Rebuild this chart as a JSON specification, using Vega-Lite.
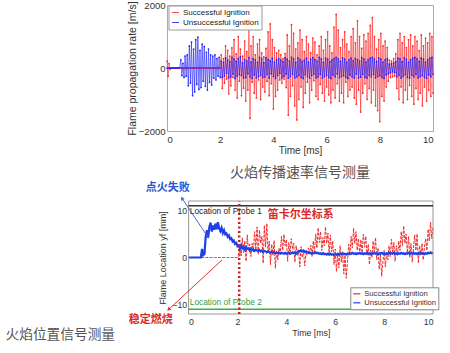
{
"$schema":"https://vega.github.io/schema/vega-lite/v6.json",
"autosize":{"type":"none"},
"padding":{"left":167,"top":5,"right":283,"bottom":348},
"background":"white",
"bounds":"flush",
"spacing":70,
"config":{"font":"Liberation Sans","view":{"stroke":null},
"axis":{"labelFont":"Liberation Sans","titleFont":"Liberation Sans","titleFontWeight":"normal","labelColor":"#333333","titleColor":"#333333","grid":false,"ticks":false,"tickSize":0,"domain":false,"format":"d"},
"legend":{"labelFont":"Liberation Sans"}},
"datasets":{
"rate":[
{"t":0,"s":220,"u":0},{"t":0.04,"s":-260,"u":0},{"t":0.08,"s":140,"u":0},{"t":0.12,"s":-40,"u":0},{"t":0.16,"s":0,"u":0},{"t":0.2,"s":0,"u":0},{"t":0.24,"s":0,"u":0},{"t":0.28,"s":0,"u":0},{"t":0.32,"s":0,"u":0},{"t":0.36,"s":0,"u":0},{"t":0.4,"s":0,"u":0},{"t":0.44,"s":0,"u":0},{"t":0.48,"s":0,"u":0},
{"t":0.52,"s":0,"u":260},{"t":0.56,"s":0,"u":-240},{"t":0.6,"s":0,"u":150},{"t":0.64,"s":0,"u":-300},{"t":0.68,"s":0,"u":380},{"t":0.72,"s":0,"u":-260},{"t":0.76,"s":0,"u":420},{"t":0.8,"s":0,"u":-560},{"t":0.84,"s":0,"u":700},{"t":0.88,"s":0,"u":-480},{"t":0.92,"s":0,"u":820},{"t":0.96,"s":0,"u":-880},{"t":1,"s":0,"u":600},{"t":1.04,"s":0,"u":-760},{"t":1.08,"s":0,"u":900},{"t":1.12,"s":0,"u":-520},{"t":1.16,"s":0,"u":980},{"t":1.2,"s":0,"u":-680},{"t":1.24,"s":0,"u":560},{"t":1.28,"s":0,"u":-620},{"t":1.32,"s":0,"u":760},{"t":1.36,"s":0,"u":-420},{"t":1.4,"s":0,"u":680},{"t":1.44,"s":0,"u":-580},{"t":1.48,"s":0,"u":500},{"t":1.52,"s":0,"u":-700},{"t":1.56,"s":0,"u":600},{"t":1.6,"s":0,"u":-460},{"t":1.64,"s":0,"u":420},{"t":1.68,"s":0,"u":-540},{"t":1.72,"s":0,"u":380},{"t":1.76,"s":0,"u":-320},{"t":1.8,"s":0,"u":420},{"t":1.84,"s":0,"u":-380},{"t":1.88,"s":0,"u":300},{"t":1.92,"s":0,"u":-260},{"t":1.96,"s":0,"u":340},{"t":2,"s":0,"u":-300},
{"t":2.04,"s":420,"u":220},{"t":2.08,"s":-650,"u":-300},{"t":2.12,"s":300,"u":180},{"t":2.16,"s":-480,"u":-250},{"t":2.2,"s":700,"u":320},{"t":2.24,"s":-350,"u":-160},{"t":2.28,"s":560,"u":260},{"t":2.32,"s":-820,"u":-310},{"t":2.36,"s":380,"u":200},{"t":2.4,"s":-560,"u":-280},{"t":2.44,"s":640,"u":340},{"t":2.48,"s":-300,"u":-190},{"t":2.52,"s":900,"u":280},{"t":2.56,"s":-700,"u":-330},{"t":2.6,"s":450,"u":210},{"t":2.64,"s":-950,"u":-260},{"t":2.68,"s":1000,"u":300},{"t":2.72,"s":-420,"u":-200},{"t":2.76,"s":600,"u":350},{"t":2.8,"s":-880,"u":-240},{"t":2.84,"s":380,"u":160},{"t":2.88,"s":-640,"u":-320},{"t":2.92,"s":850,"u":270},{"t":2.96,"s":-1050,"u":-300},
{"t":3,"s":520,"u":220},{"t":3.04,"s":-700,"u":-180},{"t":3.08,"s":1250,"u":330},{"t":3.12,"s":-1600,"u":-280},{"t":3.16,"s":700,"u":190},{"t":3.2,"s":-450,"u":-330},{"t":3.24,"s":1000,"u":300},{"t":3.28,"s":-800,"u":-220},{"t":3.32,"s":420,"u":260},{"t":3.36,"s":-950,"u":-310},{"t":3.4,"s":760,"u":180},{"t":3.44,"s":-380,"u":-270},{"t":3.48,"s":900,"u":340},{"t":3.52,"s":-1000,"u":-230},{"t":3.56,"s":480,"u":290},{"t":3.6,"s":-600,"u":-300},{"t":3.64,"s":350,"u":170},{"t":3.68,"s":-760,"u":-280},{"t":3.72,"s":620,"u":320},{"t":3.76,"s":-420,"u":-200},{"t":3.8,"s":1150,"u":270},{"t":3.84,"s":-880,"u":-320},{"t":3.88,"s":1400,"u":230},{"t":3.92,"s":-500,"u":-180},{"t":3.96,"s":900,"u":310},
{"t":4,"s":-1300,"u":-270},{"t":4.04,"s":650,"u":190},{"t":4.08,"s":-900,"u":-330},{"t":4.12,"s":480,"u":260},{"t":4.16,"s":-700,"u":-240},{"t":4.2,"s":560,"u":300},{"t":4.24,"s":-380,"u":-170},{"t":4.28,"s":420,"u":250},{"t":4.32,"s":-480,"u":-310},{"t":4.36,"s":300,"u":200},{"t":4.4,"s":-350,"u":-260},{"t":4.44,"s":460,"u":330},{"t":4.48,"s":-620,"u":-190},{"t":4.52,"s":1050,"u":280},{"t":4.56,"s":-1500,"u":-320},{"t":4.6,"s":700,"u":220},{"t":4.64,"s":-900,"u":-270},{"t":4.68,"s":1380,"u":340},{"t":4.72,"s":-560,"u":-200},{"t":4.76,"s":1100,"u":290},{"t":4.8,"s":-1200,"u":-310},{"t":4.84,"s":600,"u":180},{"t":4.88,"s":-1650,"u":-280},{"t":4.92,"s":800,"u":320},{"t":4.96,"s":-1000,"u":-230},
{"t":5,"s":1200,"u":270},{"t":5.04,"s":-600,"u":-300},{"t":5.08,"s":900,"u":200},{"t":5.12,"s":-1250,"u":-330},{"t":5.16,"s":520,"u":250},{"t":5.2,"s":-800,"u":-210},{"t":5.24,"s":1000,"u":310},{"t":5.28,"s":-450,"u":-270},{"t":5.32,"s":760,"u":190},{"t":5.36,"s":-1100,"u":-320},{"t":5.4,"s":480,"u":280},{"t":5.44,"s":-700,"u":-240},{"t":5.48,"s":950,"u":330},{"t":5.52,"s":-400,"u":-190},{"t":5.56,"s":820,"u":270},{"t":5.6,"s":-900,"u":-310},{"t":5.64,"s":420,"u":220},{"t":5.68,"s":-1000,"u":-280},{"t":5.72,"s":700,"u":340},{"t":5.76,"s":-520,"u":-200},{"t":5.8,"s":1000,"u":290},{"t":5.84,"s":-800,"u":-320},{"t":5.88,"s":560,"u":180},{"t":5.92,"s":-1050,"u":-270},{"t":5.96,"s":900,"u":310},
{"t":6,"s":-600,"u":-230},{"t":6.04,"s":1150,"u":280},{"t":6.08,"s":-850,"u":-300},{"t":6.12,"s":700,"u":200},{"t":6.16,"s":-1100,"u":-330},{"t":6.2,"s":480,"u":260},{"t":6.24,"s":-700,"u":-220},{"t":6.28,"s":1300,"u":300},{"t":6.32,"s":-950,"u":-280},{"t":6.36,"s":1700,"u":340},{"t":6.4,"s":-500,"u":-190},{"t":6.44,"s":1200,"u":290},{"t":6.48,"s":-1050,"u":-310},{"t":6.52,"s":650,"u":210},{"t":6.56,"s":-800,"u":-270},{"t":6.6,"s":900,"u":320},{"t":6.64,"s":-1100,"u":-240},{"t":6.68,"s":1150,"u":280},{"t":6.72,"s":-450,"u":-300},{"t":6.76,"s":760,"u":190},{"t":6.8,"s":-900,"u":-330},{"t":6.84,"s":520,"u":260},{"t":6.88,"s":-700,"u":-220},{"t":6.92,"s":1000,"u":310},{"t":6.96,"s":-600,"u":-280},
{"t":7,"s":1250,"u":230},{"t":7.04,"s":-950,"u":-320},{"t":7.08,"s":800,"u":300},{"t":7.12,"s":-1150,"u":-190},{"t":7.16,"s":1500,"u":270},{"t":7.2,"s":-700,"u":-310},{"t":7.24,"s":1000,"u":220},{"t":7.28,"s":-1400,"u":-290},{"t":7.32,"s":620,"u":330},{"t":7.36,"s":-800,"u":-200},{"t":7.4,"s":1050,"u":280},{"t":7.44,"s":-500,"u":-300},{"t":7.48,"s":850,"u":190},{"t":7.52,"s":-1000,"u":-320},{"t":7.56,"s":1100,"u":260},{"t":7.6,"s":-650,"u":-230},{"t":7.64,"s":1350,"u":310},{"t":7.68,"s":-1100,"u":-280},{"t":7.72,"s":1600,"u":340},{"t":7.76,"s":-700,"u":-200},{"t":7.8,"s":1000,"u":290},{"t":7.84,"s":-1200,"u":-310},{"t":7.88,"s":600,"u":210},{"t":7.92,"s":-1350,"u":-270},{"t":7.96,"s":900,"u":320},
{"t":8,"s":-1700,"u":-240},{"t":8.04,"s":1100,"u":280},{"t":8.08,"s":-900,"u":-300},{"t":8.12,"s":700,"u":190},{"t":8.16,"s":-1050,"u":-330},{"t":8.2,"s":850,"u":260},{"t":8.24,"s":-600,"u":-220},{"t":8.28,"s":650,"u":300},{"t":8.32,"s":-420,"u":-180},{"t":8.36,"s":250,"u":120},{"t":8.4,"s":-300,"u":-150},{"t":8.44,"s":220,"u":140},{"t":8.48,"s":-280,"u":-120},{"t":8.52,"s":300,"u":160},{"t":8.56,"s":-250,"u":-140},{"t":8.6,"s":450,"u":200},{"t":8.64,"s":-650,"u":-280},{"t":8.68,"s":900,"u":310},{"t":8.72,"s":-1000,"u":-230},{"t":8.76,"s":1100,"u":290},{"t":8.8,"s":-600,"u":-320},{"t":8.84,"s":800,"u":200},{"t":8.88,"s":-1100,"u":-270},{"t":8.92,"s":1000,"u":330},{"t":8.96,"s":-700,"u":-210},
{"t":9,"s":650,"u":280},{"t":9.04,"s":-1000,"u":-300},{"t":9.08,"s":900,"u":190},{"t":9.12,"s":-550,"u":-320},{"t":9.16,"s":1050,"u":260},{"t":9.2,"s":-900,"u":-230},{"t":9.24,"s":700,"u":310},{"t":9.28,"s":-1150,"u":-280},{"t":9.32,"s":1000,"u":340},{"t":9.36,"s":-650,"u":-200},{"t":9.4,"s":850,"u":290},{"t":9.44,"s":-1000,"u":-310},{"t":9.48,"s":550,"u":210},{"t":9.52,"s":-800,"u":-270},{"t":9.56,"s":1050,"u":320},{"t":9.6,"s":-1200,"u":-240},{"t":9.64,"s":700,"u":280},{"t":9.68,"s":-600,"u":-300},{"t":9.72,"s":950,"u":190},{"t":9.76,"s":-1050,"u":-330},{"t":9.8,"s":800,"u":260},{"t":9.84,"s":-700,"u":-220},{"t":9.88,"s":1100,"u":310},{"t":9.92,"s":-900,"u":-280},{"t":9.96,"s":1000,"u":340},{"t":10,"s":-800,"u":-200}
],
"loc":[
{"t":0,"s":0,"u":0},{"t":0.05,"s":0,"u":0},{"t":0.1,"s":0,"u":0},{"t":0.15,"s":0,"u":0},{"t":0.2,"s":0,"u":0},{"t":0.25,"s":0,"u":0},{"t":0.3,"s":0,"u":0},{"t":0.35,"s":0,"u":0},{"t":0.4,"s":0,"u":0},{"t":0.45,"s":0,"u":0},{"t":0.5,"s":0,"u":0},
{"t":0.55,"s":0,"u":1.8},{"t":0.6,"s":0,"u":0.5},{"t":0.65,"s":0,"u":0.8},{"t":0.7,"s":0,"u":4.5},{"t":0.75,"s":0,"u":5.8},{"t":0.8,"s":0,"u":4.2},{"t":0.85,"s":0,"u":6.5},{"t":0.9,"s":0,"u":7.4},{"t":0.95,"s":0,"u":5.5},{"t":1,"s":0,"u":6.8},{"t":1.05,"s":0,"u":5.9},{"t":1.1,"s":0,"u":7.2},{"t":1.15,"s":0,"u":6},{"t":1.2,"s":0,"u":7.5},{"t":1.25,"s":0,"u":6.2},{"t":1.3,"s":0,"u":5.6},{"t":1.35,"s":0,"u":6.3},{"t":1.4,"s":0,"u":5.2},{"t":1.45,"s":0,"u":5.8},{"t":1.5,"s":0,"u":4.9},{"t":1.55,"s":0,"u":5.1},{"t":1.6,"s":0,"u":4.4},{"t":1.65,"s":0,"u":4.7},{"t":1.7,"s":0,"u":3.9},{"t":1.75,"s":0,"u":4.1},{"t":1.8,"s":0,"u":3.4},{"t":1.85,"s":0,"u":3.6},{"t":1.9,"s":0,"u":2.9},{"t":1.95,"s":0,"u":3.1},{"t":2,"s":0,"u":2.4},{"t":2.05,"s":0,"u":2.6},
{"t":2.1,"s":2.5,"u":1.9},{"t":2.15,"s":0.3,"u":2.6},{"t":2.2,"s":4.2,"u":2},{"t":2.25,"s":1,"u":2.3},{"t":2.3,"s":3.5,"u":1.7},{"t":2.35,"s":-0.8,"u":2.2},{"t":2.4,"s":4.8,"u":1.8},{"t":2.45,"s":1.5,"u":1.9},{"t":2.5,"s":2.8,"u":1.5},{"t":2.55,"s":0.2,"u":1.9},{"t":2.6,"s":3,"u":1.6},{"t":2.65,"s":1.2,"u":1.7},{"t":2.7,"s":5.5,"u":1.4},{"t":2.75,"s":2,"u":1.7},{"t":2.8,"s":6.5,"u":1.5},{"t":2.85,"s":0.6,"u":1.4},{"t":2.9,"s":5.8,"u":1.6},{"t":2.95,"s":3,"u":1.3},
{"t":3,"s":4.5,"u":1.5},{"t":3.05,"s":-1.2,"u":1.2},{"t":3.1,"s":6.8,"u":1.4},{"t":3.15,"s":2.2,"u":1.3},{"t":3.2,"s":7.2,"u":1.1},{"t":3.25,"s":1,"u":1.3},{"t":3.3,"s":3.5,"u":1.2},{"t":3.35,"s":-1.5,"u":1},{"t":3.4,"s":2.8,"u":1.2},{"t":3.45,"s":0.5,"u":1},{"t":3.5,"s":3.6,"u":1.1},{"t":3.55,"s":-2.3,"u":0.9},{"t":3.6,"s":1.5,"u":1.1},{"t":3.65,"s":-0.5,"u":0.9},{"t":3.7,"s":2,"u":1},{"t":3.75,"s":0.8,"u":0.8},{"t":3.8,"s":4.5,"u":1},{"t":3.85,"s":1.5,"u":0.9},{"t":3.9,"s":4.9,"u":0.8},{"t":3.95,"s":2.5,"u":1},
{"t":4,"s":3.8,"u":0.8},{"t":4.05,"s":-0.8,"u":0.9},{"t":4.1,"s":3.2,"u":1},{"t":4.15,"s":0.6,"u":0.8},{"t":4.2,"s":4,"u":0.9},{"t":4.25,"s":1.8,"u":1.1},{"t":4.3,"s":3,"u":0.9},{"t":4.35,"s":-1,"u":1},{"t":4.4,"s":2.5,"u":0.8},{"t":4.45,"s":0.4,"u":1},{"t":4.5,"s":1.6,"u":1.4},{"t":4.55,"s":-2,"u":1.3},{"t":4.6,"s":2.3,"u":1.5},{"t":4.65,"s":0,"u":1.3},{"t":4.7,"s":1.5,"u":1.5},{"t":4.75,"s":-1.8,"u":1.2},{"t":4.8,"s":0.8,"u":1.3},{"t":4.85,"s":0.5,"u":1},{"t":4.9,"s":2,"u":1.1},{"t":4.95,"s":1,"u":0.9},
{"t":5,"s":2.6,"u":1},{"t":5.05,"s":0.2,"u":0.8},{"t":5.1,"s":3.5,"u":1},{"t":5.15,"s":1.2,"u":0.9},{"t":5.2,"s":5,"u":1.1},{"t":5.25,"s":2,"u":0.9},{"t":5.3,"s":6.3,"u":1},{"t":5.35,"s":3.2,"u":0.8},{"t":5.4,"s":5.5,"u":0.9},{"t":5.45,"s":1.5,"u":0.7},{"t":5.5,"s":4.2,"u":0.9},{"t":5.55,"s":2.5,"u":0.7},{"t":5.6,"s":6.5,"u":0.8},{"t":5.65,"s":3,"u":0.6},{"t":5.7,"s":5.2,"u":0.8},{"t":5.75,"s":0.5,"u":0.6},{"t":5.8,"s":4.8,"u":0.8},{"t":5.85,"s":1.2,"u":0.6},{"t":5.9,"s":3.5,"u":0.7},{"t":5.95,"s":-1.5,"u":0.5},
{"t":6,"s":1.8,"u":0.7},{"t":6.05,"s":-3,"u":0.6},{"t":6.1,"s":0.8,"u":0.8},{"t":6.15,"s":-2.2,"u":0.6},{"t":6.2,"s":2.5,"u":0.8},{"t":6.25,"s":-1,"u":0.7},{"t":6.3,"s":1.2,"u":0.9},{"t":6.35,"s":-3.5,"u":0.7},{"t":6.4,"s":0.5,"u":0.8},{"t":6.45,"s":-4.4,"u":0.6},{"t":6.5,"s":-1,"u":0.8},{"t":6.55,"s":2.8,"u":0.7},{"t":6.6,"s":0.5,"u":0.9},{"t":6.65,"s":4.5,"u":0.8},{"t":6.7,"s":2,"u":1},{"t":6.75,"s":6.2,"u":0.8},{"t":6.8,"s":3,"u":0.9},{"t":6.85,"s":5.5,"u":0.7},{"t":6.9,"s":1.5,"u":0.9},{"t":6.95,"s":4,"u":0.8},
{"t":7,"s":0.8,"u":1},{"t":7.05,"s":3.8,"u":0.8},{"t":7.1,"s":1,"u":0.9},{"t":7.15,"s":4.9,"u":0.7},{"t":7.2,"s":2.2,"u":0.9},{"t":7.25,"s":4.5,"u":0.8},{"t":7.3,"s":0.5,"u":1},{"t":7.35,"s":2.8,"u":0.8},{"t":7.4,"s":-1.5,"u":0.9},{"t":7.45,"s":1.5,"u":0.7},{"t":7.5,"s":0,"u":0.9},{"t":7.55,"s":3.5,"u":0.8},{"t":7.6,"s":1.2,"u":1},{"t":7.65,"s":4.2,"u":0.8},{"t":7.7,"s":-0.5,"u":0.9},{"t":7.75,"s":2,"u":0.7},{"t":7.8,"s":-2.5,"u":0.9},{"t":7.85,"s":0.8,"u":0.8},{"t":7.9,"s":-4,"u":1},{"t":7.95,"s":-1,"u":0.8},
{"t":8,"s":1.5,"u":0.9},{"t":8.05,"s":-2,"u":0.7},{"t":8.1,"s":1,"u":0.9},{"t":8.15,"s":-0.5,"u":0.8},{"t":8.2,"s":2.5,"u":1},{"t":8.25,"s":0.2,"u":0.8},{"t":8.3,"s":3.9,"u":0.9},{"t":8.35,"s":1,"u":0.8},{"t":8.4,"s":3.2,"u":1},{"t":8.45,"s":-0.8,"u":0.8},{"t":8.5,"s":2.5,"u":0.9},{"t":8.55,"s":0.5,"u":0.7},{"t":8.6,"s":3.5,"u":0.9},{"t":8.65,"s":1.5,"u":0.8},{"t":8.7,"s":5.5,"u":1},{"t":8.75,"s":2.5,"u":0.8},{"t":8.8,"s":6.7,"u":0.9},{"t":8.85,"s":3,"u":0.7},{"t":8.9,"s":5,"u":0.9},{"t":8.95,"s":1,"u":0.8},
{"t":9,"s":4.5,"u":1},{"t":9.05,"s":0,"u":0.8},{"t":9.1,"s":3,"u":0.9},{"t":9.15,"s":-1,"u":0.8},{"t":9.2,"s":2,"u":1},{"t":9.25,"s":4.8,"u":0.8},{"t":9.3,"s":1.5,"u":0.9},{"t":9.35,"s":5,"u":0.7},{"t":9.4,"s":-1.2,"u":0.9},{"t":9.45,"s":2.5,"u":0.8},{"t":9.5,"s":0.5,"u":1},{"t":9.55,"s":3,"u":0.8},{"t":9.6,"s":-0.5,"u":0.9},{"t":9.65,"s":2.2,"u":0.7},{"t":9.7,"s":4,"u":0.9},{"t":9.75,"s":1.5,"u":0.8},{"t":9.8,"s":6,"u":1},{"t":9.85,"s":3.5,"u":0.9},{"t":9.9,"s":7.5,"u":1.1},{"t":9.95,"s":4,"u":0.9},{"t":10,"s":6.5,"u":1}
]},
"resolve":{"scale":{"x":"independent","y":"independent","color":"independent"},"legend":{"color":"independent"}},
"vconcat":[
{"width":266,"height":126,"view":{"stroke":"#aaaaaa"},
"title":{"text":"火焰传播速率信号测量","orient":"bottom","anchor":"middle","offset":10,"font":"Noto Sans CJK SC","fontSize":14,"fontWeight":"normal","color":"#555555"},
"layer":[
{"data":{"name":"rate"},"mark":{"type":"line","strokeWidth":0.7,"opacity":0.85,"point":{"size":3,"filled":true}},
"encoding":{
"x":{"field":"t","type":"quantitative","title":"Time [ms]","scale":{"domain":[0,10],"nice":false},"axis":{"values":[0,2,4,6,8,10],"labelFontSize":9.5,"titleFontSize":10,"labelPadding":3,"titlePadding":2}},
"y":{"field":"s","type":"quantitative","title":"Flame propagation rate [m/s]","scale":{"domain":[-2000,2000],"nice":false},"axis":{"values":[-2000,-1000,0,1000,2000],"labelFontSize":9.5,"titleFontSize":10.5,"labelPadding":2,"titlePadding":1}},
"color":{"datum":"Successful Ignition","type":"nominal","scale":{"domain":["Successful Ignition","Unsuccessful Ignition"],"range":["#ff2424","#2222ff"]},
"legend":{"title":null,"orient":"none","legendX":1.5,"legendY":0.5,"labelFontSize":8,"symbolType":"stroke","symbolSize":50,"symbolStrokeWidth":1,"padding":2.5,"rowPadding":1,"fillColor":"white","strokeColor":"#999999","labelColor":"#222222","labelOffset":3}}}},
{"data":{"name":"rate"},"mark":{"type":"line","strokeWidth":0.7,"opacity":0.9,"point":{"size":3,"filled":true}},
"encoding":{
"x":{"field":"t","type":"quantitative","title":"Time [ms]"},
"y":{"field":"u","type":"quantitative","title":"Flame propagation rate [m/s]"},
"color":{"datum":"Unsuccessful Ignition","type":"nominal"}}}
]},
{"width":266,"height":113,"view":{"stroke":null},
"layer":[
{"data":{"name":"loc"},"mark":{"type":"line","strokeWidth":1,"strokeDash":[3,1.2]},
"encoding":{
"x":{"field":"t","type":"quantitative","title":"Time [ms]","scale":{"domain":[0,10],"nice":false,"range":[21.6,266]},"axis":{"values":[0,2,4,6,8,10],"labelFontSize":8.7,"titleFontSize":8.8,"labelPadding":3.5,"titlePadding":2}},
"y":{"field":"s","type":"quantitative","title":"Flame Location yf [mm]","scale":{"domain":[-12,12],"nice":false},"axis":{"values":[-10,-5,0,5,10],"offset":-21.6,"labelFontSize":8.7,"titleFontSize":9,"labelPadding":2,"titlePadding":4}},
"color":{"datum":"Successful Ignition","type":"nominal","scale":{"domain":["Successful Ignition","Unsuccessful Ignition"],"range":["#ee2c2c","#1f3fe8"]},
"legend":{"title":null,"orient":"none","legendX":183.3,"legendY":86.3,"labelFontSize":7.6,"symbolType":"stroke","symbolSize":50,"symbolStrokeWidth":1.2,"padding":2,"rowPadding":0,"fillColor":"white","strokeColor":"#888888","labelColor":"#333333","labelOffset":3}}}},
{"data":{"name":"loc"},"mark":{"type":"line","strokeWidth":2.2},
"encoding":{
"x":{"field":"t","type":"quantitative","title":"Time [ms]"},
"y":{"field":"u","type":"quantitative","title":"Flame Location yf [mm]"},
"color":{"datum":"Unsuccessful Ignition","type":"nominal"}}},
{"data":{"values":[{}]},"mark":{"type":"rect","filled":false,"stroke":"#999999","strokeWidth":1},
"encoding":{"x":{"datum":0},"x2":{"datum":10},"y":{"datum":-12},"y2":{"datum":12}}},
{"data":{"values":[{}]},"mark":{"type":"rule","color":"#333333","strokeWidth":1.5},
"encoding":{"x":{"datum":0},"x2":{"datum":10},"y":{"datum":11}}},
{"data":{"values":[{}]},"mark":{"type":"rule","color":"#3cb043","strokeWidth":1.5},
"encoding":{"x":{"datum":0},"x2":{"datum":10},"y":{"datum":-11}}},
{"data":{"values":[{}]},"mark":{"type":"rule","color":"#c81e1e","strokeWidth":2.5,"strokeDash":[2,2.5]},
"encoding":{"x":{"datum":2.07},"y":{"datum":-12},"y2":{"datum":12}}},
{"data":{"values":[{}]},"mark":{"type":"text","text":"Location of Probe 1","align":"left","baseline":"middle","fontSize":8.3,"color":"#222222"},
"encoding":{"x":{"datum":0.05},"y":{"datum":9.6}}},
{"data":{"values":[{}]},"mark":{"type":"text","text":"Location of Probe 2","align":"left","baseline":"middle","fontSize":8.3,"color":"#2e9e3e"},
"encoding":{"x":{"datum":0.05},"y":{"datum":-9.6}}},
{"data":{"values":[{}]},"mark":{"type":"text","text":"笛卡尔坐标系","align":"center","baseline":"middle","fontSize":11,"font":"Noto Sans CJK SC","fontWeight":"bold","color":"#d42a2a"},
"encoding":{"x":{"datum":4.59},"y":{"datum":9.13}}},
{"data":{"values":[{}]},"mark":{"type":"text","text":"点火失败","align":"center","baseline":"middle","fontSize":11,"font":"Noto Sans CJK SC","fontWeight":"bold","color":"#2456d6"},
"encoding":{"x":{"datum":-0.85},"y":{"datum":14.73}}},
{"data":{"values":[{}]},"mark":{"type":"text","text":"稳定燃烧","align":"center","baseline":"middle","fontSize":11,"font":"Noto Sans CJK SC","fontWeight":"bold","color":"#d42a2a"},
"encoding":{"x":{"datum":-1.55},"y":{"datum":-13.17}}},
{"data":{"values":[{}]},"mark":{"type":"text","text":"火焰位置信号测量","align":"center","baseline":"middle","fontSize":13.7,"font":"Noto Sans CJK SC","color":"#555555"},
"encoding":{"x":{"datum":-5.25},"y":{"datum":-16.5}}},
{"data":{"values":[{}]},"mark":{"type":"rule","color":"#3f6fd8","strokeWidth":1},
"encoding":{"x":{"datum":-0.27},"y":{"datum":12.56},"x2":{"datum":0.82},"y2":{"datum":4.1}}},
{"data":{"values":[{}]},"mark":{"type":"point","shape":"triangle-up","angle":327,"size":18,"filled":true,"color":"#3f6fd8","opacity":1},
"encoding":{"x":{"datum":-0.27},"y":{"datum":12.56}}},
{"data":{"values":[{}]},"mark":{"type":"rule","color":"#e03030","strokeWidth":1},
"encoding":{"x":{"datum":1.37},"y":{"datum":-0.5},"x2":{"datum":-0.82},"y2":{"datum":-11.06}}},
{"data":{"values":[{}]},"mark":{"type":"point","shape":"triangle-up","angle":227,"size":18,"filled":true,"color":"#e03030","opacity":1},
"encoding":{"x":{"datum":-0.82},"y":{"datum":-11.06}}}
]}
]}
